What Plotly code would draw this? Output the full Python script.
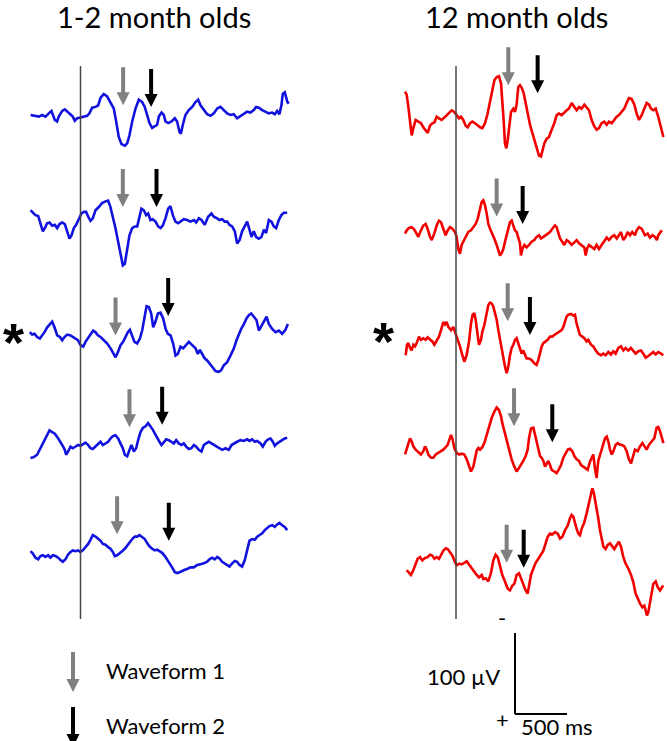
import plotly.graph_objects as go

# ---------------- scale (from the 500 ms / 100 uV scale bar) ----------------
MS_PER_PX = 500 / 52.0
UV_PER_PX = 100 / 81.0
W, H = 667, 741

# ---------------- data: time (ms) and amplitude (uV, negative up) -------------
# 1-2 month olds (blue)
L1_t = [-480,-449,-401,-369,-337,-305,-279,-247,-225,-209,-176,-151,-128,-96,-74,-55,-32,0,32,64,86,112,144,170,192,224,256,288,320,343,368,394,426,449,471,497,529,561,593,618,641,663,689,715,737,753,779,801,817,843,875,907,929,952,965,984,1009,1041,1074,1106,1131,1154,1186,1218,1250,1282,1314,1346,1378,1410,1442,1474,1506,1538,1570,1602,1634,1666,1689,1715,1747,1779,1811,1843,1868,1891,1913,1932,1945,1964,1977,1990,2003]
L1_v = [0,1,2,0,2,-2,-5,6,8,2,-5,-7,-4,-1,2,7,4,3,2,1,-2,-9,-10,-12,-21,-26,-23,-16,-8,8,27,36,38,35,25,8,-8,-19,-16,-10,0,10,16,14,12,2,-3,0,8,10,8,4,8,21,23,12,0,-6,-10,-16,-19,-12,-6,-1,1,-2,-8,-10,-6,-2,0,-1,4,1,-2,-4,-3,-6,-10,-9,-6,-4,-2,-3,-1,-5,-1,-12,-26,-28,-21,-16,-14]

L2_t = [-481,-458,-433,-407,-385,-362,-343,-321,-298,-273,-247,-224,-202,-176,-151,-128,-106,-87,-64,-42,-16,9,32,54,74,96,118,144,176,208,240,266,288,311,336,362,384,407,426,449,471,497,522,545,567,586,609,631,650,673,695,721,747,769,791,817,843,865,888,913,939,965,993,1025,1057,1090,1112,1138,1163,1195,1227,1259,1282,1314,1336,1362,1388,1410,1432,1458,1484,1506,1529,1554,1580,1602,1625,1644,1666,1689,1715,1740,1763,1785,1811,1836,1859,1881,1907,1932,1955,1987]
L2_v = [-12,-9,-6,-5,4,14,10,4,3,7,6,10,5,3,5,14,23,19,10,6,-1,-8,-10,-10,-4,1,-2,-12,-16,-21,-23,-24,-16,-4,10,27,43,56,54,37,19,10,8,8,-6,-14,-12,-6,-8,0,-1,2,8,10,7,-2,-14,-17,-6,2,4,2,-1,0,2,0,3,-2,0,6,-4,-8,-4,-2,0,-1,2,2,6,8,14,29,25,14,7,2,12,21,14,21,23,21,12,16,0,2,8,10,0,-6,-9,-9]

L3_t = [-487,-465,-442,-417,-391,-368,-346,-320,-295,-272,-250,-224,-198,-176,-154,-128,-96,-70,-48,-25,0,26,48,71,96,122,144,167,193,225,257,289,314,337,359,385,410,433,455,475,497,519,545,571,593,616,635,657,680,699,721,744,769,795,818,840,866,891,914,936,962,987,1019,1042,1074,1106,1128,1148,1170,1192,1218,1244,1266,1298,1330,1353,1378,1410,1442,1475,1500,1523,1545,1571,1596,1619,1641,1667,1692,1715,1737,1763,1789,1811,1843,1875,1907,1939,1971,1994]
L3_v = [-6,-3,-4,0,2,-2,-6,-12,-16,-19,-12,-2,0,4,0,-3,-2,0,2,4,10,12,6,2,-2,-8,-6,-2,0,4,8,14,19,25,19,10,6,0,-6,-9,-2,6,8,2,-8,-25,-38,-37,-29,-12,-19,-29,-30,-23,-10,-4,-2,8,23,21,12,14,9,6,10,14,21,16,21,26,29,33,37,42,43,41,35,31,23,14,4,-4,-10,-16,-23,-27,-29,-25,-21,-8,-14,-19,-25,-16,-10,-6,-8,-4,-9,-16]

L4_t = [-481,-449,-417,-385,-353,-321,-298,-273,-247,-224,-202,-176,-151,-138,-119,-96,-74,-48,-23,0,22,48,74,96,118,144,170,192,215,240,266,288,311,336,362,384,407,426,449,471,490,513,535,554,577,599,625,650,673,695,715,737,759,779,801,824,849,875,897,920,945,971,993,1016,1041,1067,1090,1112,1138,1163,1186,1208,1234,1259,1282,1304,1330,1362,1394,1426,1452,1474,1506,1538,1570,1602,1625,1650,1676,1699,1731,1753,1779,1804,1827,1849,1868,1891,1913,1939,1964,1987]
L4_v = [16,15,12,4,-4,-12,-18,-16,-14,-10,-6,0,6,12,8,2,4,2,0,1,-1,-3,0,4,5,2,-2,-4,0,-2,-4,-8,-11,-12,-8,-2,4,12,14,6,0,8,4,-6,-16,-21,-23,-27,-23,-19,-14,-8,-4,0,-3,-7,-6,-4,-2,-6,-2,0,-2,2,5,4,0,2,6,8,0,-2,-4,-2,0,2,4,6,4,6,0,-2,-4,-6,-5,-7,-5,-7,-4,-5,-2,2,-4,-7,-8,-4,1,-2,-4,-6,-8,-9]

L5_t = [-481,-458,-433,-407,-385,-362,-337,-311,-289,-266,-240,-215,-192,-170,-144,-119,-96,-74,-48,-23,0,22,48,74,96,118,144,170,192,215,240,266,288,311,330,352,375,400,426,449,471,497,522,545,567,593,618,641,663,689,715,737,759,785,811,833,856,881,907,929,952,977,1003,1025,1057,1090,1122,1154,1186,1218,1240,1266,1291,1314,1336,1362,1388,1410,1432,1458,1484,1506,1529,1554,1580,1602,1625,1650,1676,1699,1721,1747,1772,1795,1817,1843,1868,1891,1913,1939,1964,1987]
L5_v = [-1,2,7,9,5,4,6,4,7,4,5,7,10,12,9,3,0,-2,-1,-2,0,-2,-6,-10,-15,-21,-19,-16,-14,-10,-9,-6,-4,0,5,4,1,-1,-4,-8,-12,-16,-19,-19,-21,-19,-16,-11,-7,-4,-2,-3,-1,1,5,9,14,19,25,26,25,23,22,21,19,19,16,15,14,12,9,7,9,6,8,12,14,16,18,14,11,12,16,18,10,-2,-14,-16,-15,-19,-21,-23,-27,-29,-32,-33,-31,-34,-36,-33,-31,-27]

# 12 month olds (red)
R1_t = [-490,-474,-458,-442,-426,-410,-388,-362,-337,-314,-292,-272,-250,-228,-208,-186,-163,-138,-112,-90,-67,-42,-16,6,29,48,70,93,112,135,157,183,208,231,253,279,304,327,349,369,391,413,433,445,458,471,484,497,510,529,551,567,583,599,615,631,651,670,689,712,734,753,776,798,817,830,849,872,894,920,945,968,990,1016,1042,1064,1086,1112,1138,1160,1183,1208,1234,1256,1279,1304,1330,1352,1375,1400,1426,1449,1471,1497,1522,1545,1567,1593,1618,1641,1663,1689,1715,1737,1760,1785,1811,1833,1856,1875,1897,1920,1945,1971,1994]
R1_v = [-35,-31,-16,2,19,10,0,2,4,9,12,16,7,4,3,-4,-2,0,-3,-6,-8,-12,-10,-6,-2,-4,0,7,9,4,2,4,7,9,10,4,-8,-23,-39,-49,-53,-54,-45,-27,0,29,35,25,8,-10,-14,-10,-19,-41,-43,-40,-33,-21,-6,6,16,25,35,44,45,37,29,23,21,12,4,-6,-8,-6,-10,-12,-14,-21,-16,-12,-16,-14,-19,-16,-12,0,8,12,10,4,2,6,2,4,0,-4,-6,-10,-14,-21,-27,-26,-19,-8,0,-6,-14,-21,-19,-14,-12,-14,-4,10,21]

R2_t = [-490,-474,-452,-426,-401,-378,-362,-337,-314,-292,-273,-250,-234,-209,-186,-164,-144,-122,-100,-80,-58,-35,-10,6,22,38,54,70,93,118,144,166,189,208,231,247,263,279,295,311,327,349,368,391,407,423,439,455,471,487,503,519,535,551,567,583,599,615,625,638,657,679,702,727,753,775,798,817,840,862,881,904,926,952,968,984,1000,1022,1041,1064,1086,1112,1138,1160,1183,1208,1234,1247,1259,1279,1304,1330,1352,1375,1400,1426,1449,1471,1497,1522,1545,1567,1586,1609,1631,1650,1673,1695,1721,1737,1759,1785,1801,1817,1843,1865,1888,1913,1932,1945,1971,1984]
R2_v = [2,-2,-5,-6,-3,2,6,-2,-8,-10,-4,6,10,2,-8,-14,-12,-4,4,-2,-6,-4,0,6,21,27,16,12,6,0,-2,-6,-10,-16,-29,-37,-39,-33,-23,-10,-4,2,8,16,24,29,26,21,12,4,-4,-12,-14,-8,-2,0,6,14,29,21,16,19,16,12,10,6,4,8,6,4,2,0,-4,-8,-6,0,8,12,16,10,12,16,12,10,14,16,19,29,21,16,19,21,16,21,16,12,7,10,6,4,8,4,0,10,6,0,4,0,4,-2,-6,-4,0,4,2,7,4,6,10,4,-1,0]

R3_t = [-484,-471,-458,-442,-426,-410,-394,-378,-356,-337,-314,-292,-273,-250,-228,-208,-186,-164,-144,-122,-106,-90,-74,-48,-26,-10,6,22,38,61,80,102,125,144,160,176,189,202,221,240,253,272,295,311,327,343,359,375,391,407,423,439,455,471,487,503,519,535,551,567,583,599,615,631,647,663,679,702,727,753,775,791,807,824,840,862,881,904,926,945,968,990,1016,1032,1048,1064,1080,1106,1128,1144,1160,1176,1192,1215,1234,1256,1272,1298,1320,1343,1368,1394,1416,1439,1465,1490,1513,1535,1561,1586,1609,1631,1657,1682,1705,1727,1753,1779,1801,1824,1849,1875,1897,1920,1945,1971,1993]
R3_v = [25,12,10,16,19,12,14,10,2,6,4,6,3,6,8,12,7,2,-6,-16,-13,-16,-10,-6,-10,-4,2,6,14,25,33,25,8,-14,-25,-27,-19,-6,12,6,-4,-12,-29,-37,-40,-39,-35,-27,-19,-6,6,14,27,39,47,39,25,16,12,6,4,10,16,23,19,25,29,29,31,35,37,31,21,14,10,8,6,2,2,0,-2,-4,-6,-10,-16,-23,-25,-26,-24,-25,-14,-6,0,2,4,8,6,12,14,19,23,25,23,25,21,24,20,23,16,14,19,16,19,16,19,23,20,19,23,28,26,23,21,24,21,23,25]

R4_t = [-490,-474,-458,-442,-426,-410,-388,-362,-337,-314,-298,-282,-266,-240,-218,-195,-170,-144,-122,-99,-80,-64,-48,-35,-16,6,29,54,80,103,125,144,167,183,199,215,231,253,272,295,317,343,369,391,413,433,445,465,487,510,535,561,583,599,625,647,670,689,702,721,744,760,776,792,808,824,840,856,872,888,904,920,946,968,990,1010,1032,1054,1074,1096,1119,1138,1160,1183,1202,1224,1247,1266,1288,1304,1320,1336,1352,1368,1385,1401,1417,1433,1449,1465,1481,1497,1513,1535,1555,1577,1593,1619,1641,1663,1683,1705,1721,1747,1769,1792,1811,1833,1856,1881,1907,1929,1945,1961,1977,1994]
R4_v = [8,2,-4,-12,-8,-2,2,5,8,4,-2,2,8,12,12,8,6,3,2,-1,-4,-10,-16,-12,0,6,8,7,8,14,23,29,23,12,3,0,2,-1,-6,-16,-27,-37,-45,-50,-47,-39,-31,-21,-8,2,14,23,29,26,21,16,10,2,-12,-24,-25,-16,-8,2,10,12,16,23,20,16,21,27,29,31,26,21,12,7,2,1,4,10,14,16,21,23,25,27,17,12,8,25,37,16,8,2,-4,-12,-14,-8,2,8,4,-4,-6,-4,-4,-2,4,14,19,8,2,4,-2,-6,-2,2,-4,-8,-12,-25,-26,-21,-14,-6]

R5_t = [-474,-452,-433,-410,-388,-369,-346,-324,-298,-272,-250,-228,-208,-186,-163,-144,-122,-99,-80,-58,-35,-16,6,29,54,80,103,125,151,176,199,221,247,263,285,311,337,359,381,401,423,445,471,497,519,542,561,583,606,625,647,670,689,702,721,744,766,792,817,840,862,881,904,926,952,978,1000,1022,1048,1074,1096,1112,1128,1144,1160,1176,1192,1208,1234,1256,1279,1298,1311,1324,1336,1352,1368,1385,1401,1417,1439,1458,1481,1503,1522,1545,1567,1586,1609,1631,1657,1683,1705,1727,1747,1769,1792,1811,1824,1836,1849,1865,1881,1897,1920,1939,1961,1977,1993]
R5_v = [10,13,16,10,2,-4,-6,-2,-5,-6,-9,-8,-4,-6,-4,-8,-14,-17,-16,-12,-8,-2,4,2,3,1,-1,3,8,12,16,19,16,21,20,24,13,-2,-9,-6,6,16,24,33,35,29,27,16,14,21,29,35,39,31,16,8,1,-4,-10,-14,-23,-31,-35,-34,-37,-35,-29,-31,-39,-45,-54,-58,-56,-47,-41,-35,-33,-41,-49,-60,-72,-84,-91,-86,-78,-66,-54,-39,-27,-19,-16,-21,-23,-19,-16,-21,-25,-19,-6,2,8,16,25,39,45,51,56,54,60,66,62,49,37,27,24,31,35,31,29]

LEFT_T = [L1_t, L2_t, L3_t, L4_t, L5_t]
LEFT_V = [L1_v, L2_v, L3_v, L4_v, L5_v]
RIGHT_T = [R1_t, R2_t, R3_t, R4_t, R5_t]
RIGHT_V = [R1_v, R2_v, R3_v, R4_v, R5_v]

# arrow latencies (ms) and tip amplitudes (uV)
LEFT_W1_MS = [410, 407, 337, 471, 352]
LEFT_W2_MS = [679, 731, 843, 785, 849]
LEFT_W1_TIP = [-12, -16, -2, -22, -22]
LEFT_W2_TIP = [-10, -16, -26, -25, -14]
RIGHT_W1_MS = [503, 391, 497, 558, 487]
RIGHT_W2_MS = [785, 641, 711, 926, 651]
RIGHT_W1_TIP = [-43, -19, -17, -27, 1]
RIGHT_W2_TIP = [-33, -10, 0, -7, 7]

TITLES = ["1-2 month olds", "12 month olds"]
LEGEND_LABELS = ["Waveform 1", "Waveform 2"]
SCALE_MS, SCALE_UV = 500, 100

# ---------------- layout constants (pixels) ----------------
LEFT_ZERO_PX, RIGHT_ZERO_PX = 80.5, 456.0
LEFT_BASE_PX = [115, 220, 337, 445, 552]
RIGHT_BASE_PX = [120, 232, 335, 448, 562]
BLUE = "rgb(18,18,222)"
RED = "rgb(242,0,0)"
GRAY = "rgb(128,128,128)"
FONT = "Lato, Liberation Sans, Arial, sans-serif"

fig = go.Figure()

def add_rows(ts, vs, bases, color, xref):
    for t, v, b in zip(ts, vs, bases):
        off = b * UV_PER_PX
        fig.add_trace(go.Scatter(
            x=t, y=[off + a for a in v], mode="lines", xaxis=xref, yaxis="y",
            line=dict(color=color, width=2.6), hoverinfo="skip", showlegend=False))

add_rows(LEFT_T, LEFT_V, LEFT_BASE_PX, BLUE, "x")
add_rows(RIGHT_T, RIGHT_V, RIGHT_BASE_PX, RED, "x2")

shapes = []

def arrow(t, tip, color, xref, length_px=38):
    hw = 6.5 * MS_PER_PX
    sw = 2.0 * MS_PER_PX
    hh = 13 * UV_PER_PX
    L = length_px * UV_PER_PX
    p = (f"M {t},{tip} L {t-hw},{tip-hh} L {t-sw},{tip-hh} L {t-sw},{tip-L} "
         f"L {t+sw},{tip-L} L {t+sw},{tip-hh} L {t+hw},{tip-hh} Z")
    shapes.append(dict(type="path", path=p, xref=xref, yref="y",
                       fillcolor=color, line=dict(width=0), layer="above"))

for i in range(5):
    lb = LEFT_BASE_PX[i] * UV_PER_PX
    rb = RIGHT_BASE_PX[i] * UV_PER_PX
    arrow(LEFT_W1_MS[i], lb + LEFT_W1_TIP[i], GRAY, "x")
    arrow(LEFT_W2_MS[i], lb + LEFT_W2_TIP[i], "black", "x")
    arrow(RIGHT_W1_MS[i], rb + RIGHT_W1_TIP[i], GRAY, "x2")
    arrow(RIGHT_W2_MS[i], rb + RIGHT_W2_TIP[i], "black", "x2")

# stimulus onset lines
for xr in ("x", "x2"):
    shapes.append(dict(type="line", xref=xr, yref="paper", x0=0, x1=0,
                       y0=1 - 619 / H, y1=1 - 66 / H,
                       line=dict(color="rgb(70,70,70)", width=1.5)))

# legend arrows
leg_t = (73 - LEFT_ZERO_PX) * MS_PER_PX
arrow(leg_t, 692 * UV_PER_PX, GRAY, "x", 40)
arrow(leg_t, 747 * UV_PER_PX, "black", "x", 40)

# scale bar (drawn in data units on the right axis)
sb_t0 = (515 - RIGHT_ZERO_PX) * MS_PER_PX
sb_y0 = 714 * UV_PER_PX
shapes.append(dict(type="line", xref="x2", yref="y", x0=sb_t0, x1=sb_t0,
                   y0=sb_y0, y1=sb_y0 - SCALE_UV, line=dict(color="black", width=2)))
shapes.append(dict(type="line", xref="x2", yref="y", x0=sb_t0, x1=sb_t0 + SCALE_MS,
                   y0=sb_y0, y1=sb_y0, line=dict(color="black", width=2)))

def px(x, y):
    return x / W, 1 - y / H

ann = []
def text(s, x, y, size, xanchor="center", yshift=0, family=FONT):
    xp, yp = px(x, y)
    ann.append(dict(text=s, x=xp, y=yp, xref="paper", yref="paper", showarrow=False,
                    xanchor=xanchor, yanchor="middle", yshift=yshift,
                    font=dict(family=family, size=size, color="black")))

text(TITLES[0], 154, 17, 29)
text(TITLES[1], 516, 17, 29)
text(LEGEND_LABELS[0], 104, 670, 22, "left")
text(LEGEND_LABELS[1], 104, 725, 22, "left")
text(f"{SCALE_UV} µV", 502, 676, 22, "right")
text(f"{SCALE_MS} ms", 519, 726, 22, "left")
text("+", 502, 719, 22)
text("-", 502, 617, 22)
AST_FONT = "Liberation Sans, Arial, sans-serif"
text("<b>*</b>", 13, 337, 54, yshift=-5, family=AST_FONT)
text("<b>*</b>", 384, 336, 54, yshift=-5, family=AST_FONT)

fig.update_layout(
    width=W, height=H, margin=dict(l=0, r=0, t=0, b=0),
    paper_bgcolor="white", plot_bgcolor="white",
    xaxis=dict(range=[-LEFT_ZERO_PX * MS_PER_PX, (W - LEFT_ZERO_PX) * MS_PER_PX],
               visible=False, fixedrange=True),
    xaxis2=dict(range=[-RIGHT_ZERO_PX * MS_PER_PX, (W - RIGHT_ZERO_PX) * MS_PER_PX],
                visible=False, overlaying="x", fixedrange=True),
    yaxis=dict(range=[H * UV_PER_PX, 0], visible=False, fixedrange=True),
    shapes=shapes, annotations=ann, showlegend=False,
)

fig.write_html("out.html", config={"displayModeBar": False},
               post_script="document.body.style.margin='0';document.body.style.padding='0';document.body.style.overflow='hidden';")
